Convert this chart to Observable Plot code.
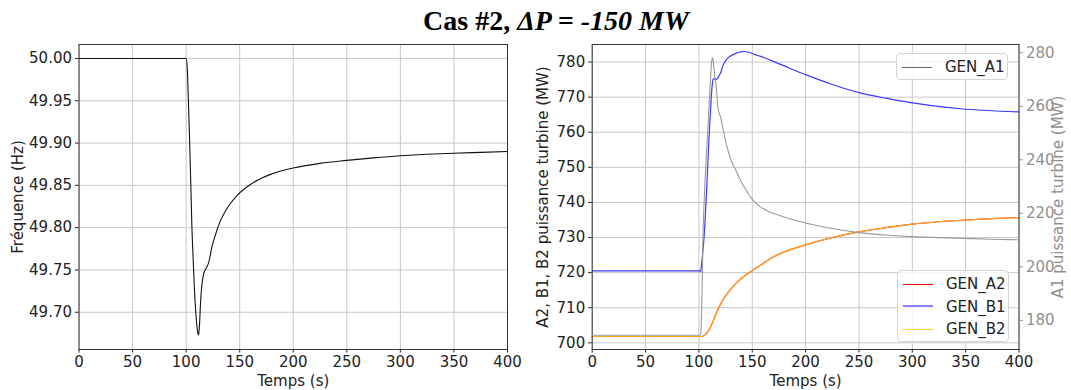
<!DOCTYPE html>
<html><head><meta charset="utf-8">
<script src="https://cdn.jsdelivr.net/npm/d3@7"></script>
<script src="https://cdn.jsdelivr.net/npm/@observablehq/plot@0.6"></script>
<style>
body{margin:0;background:#fff;}
#root{position:relative;width:1071px;height:390px;overflow:hidden;font-family:"DejaVu Sans",sans-serif;}
#root svg{position:absolute;left:0;top:0;}
.title{position:absolute;left:306px;width:500px;top:6.6px;line-height:28px;text-align:center;font-family:"Liberation Serif",serif;font-weight:bold;font-size:28px;color:#000;white-space:nowrap;}
.leg{position:absolute;background:rgba(255,255,255,0.8);border:1px solid #d5d5d5;border-radius:4px;box-sizing:border-box;}
.row{position:absolute;left:0;height:20px;font-size:15px;color:#222;line-height:20px;}
.row .sw{position:absolute;left:5px;top:10px;width:30px;height:0;}
.row .lb{position:absolute;left:48px;top:0;white-space:nowrap;}
</style></head><body><div id="root"></div>
<script>
// ---------- data ----------
const xTicks = [0, 50, 100, 150, 200, 250, 300, 350, 400];
const freqTicks = [49.70, 49.75, 49.80, 49.85, 49.90, 49.95, 50.00];
const powTicks = [700, 710, 720, 730, 740, 750, 760, 770, 780];
const a1Ticks = [180, 200, 220, 240, 260, 280];

const freqT  = [0, 100, 101, 102, 103, 103.75, 104.5, 105.3, 106.5, 107.8, 109, 110, 111, 111.6, 112.2, 112.7, 113.1, 114, 115.3, 116.5, 117.8, 119.5, 120.9, 122.5, 124, 126.5, 128.75, 132, 136.6, 141, 147.5, 153, 160, 168, 178.75, 190, 200, 225, 250, 275, 300, 325, 350, 375, 400];
const freqHz = [50.0, 50.0, 49.99, 49.955, 49.915, 49.879, 49.845, 49.805, 49.765, 49.726, 49.70, 49.685, 49.675, 49.673, 49.68, 49.69, 49.702, 49.722, 49.738, 49.746, 49.75, 49.754, 49.758, 49.767, 49.777, 49.788, 49.797, 49.808, 49.8195, 49.828, 49.838, 49.8445, 49.851, 49.857, 49.863, 49.8675, 49.8705, 49.876, 49.8795, 49.8825, 49.885, 49.8868, 49.888, 49.889, 49.89];

const b1T  = [0, 101, 101.6, 102.2, 103.5, 104.7, 106, 107.5, 108.5, 109.4, 110.5, 111.5, 112.5, 113.4, 114.5, 115.6, 116.7, 117.8, 119, 120.3, 122, 123.4, 126, 129.7, 134, 139, 143, 146.9, 152, 158, 165, 172, 180, 190, 200, 225, 251, 275, 297, 320, 345, 370, 400];
const b1MW = [720.5, 720.5, 720.2, 721.5, 725.5, 729.5, 736, 745, 752, 757.8, 764, 769.5, 773.5, 775.2, 775.3, 775.0, 775.1, 775.5, 776.2, 776.9, 778.5, 779.6, 780.8, 781.7, 782.4, 782.9, 783.0, 782.8, 782.2, 781.6, 780.8, 779.9, 778.9, 777.6, 776.4, 773.6, 771.2, 769.7, 768.5, 767.5, 766.7, 766.2, 765.8];

const a2T  = [0, 102.5, 104, 106, 108, 111, 114, 117, 120.3, 123, 126.6, 131, 136, 143, 150, 158, 167, 180, 200, 225, 250, 275, 300, 325, 350, 375, 400];
const a2MW = [701.8, 701.8, 701.95, 702.4, 703.0, 704.6, 706.7, 709.0, 711.0, 712.5, 714.0, 715.7, 717.3, 719.1, 720.6, 722.2, 724.0, 725.9, 727.9, 730.0, 731.6, 732.8, 733.8, 734.5, 735.0, 735.4, 735.7];
const b2T  = [0, 102.5, 104, 106, 108, 111, 114, 117, 120.3, 123, 126.6, 131, 136, 143, 150, 158, 167, 180, 200, 225, 250, 275, 300, 325, 350, 375, 400];
const b2MW = [701.8, 701.8, 701.95, 702.4, 703.0, 704.6, 706.7, 709.0, 711.0, 712.5, 714.0, 715.7, 717.3, 719.1, 720.6, 722.2, 724.0, 725.9, 727.9, 730.0, 731.6, 732.8, 733.8, 734.5, 735.0, 735.4, 735.7];

const a1T  = [0, 101.6, 102.2, 102.8, 103.4, 103.75, 104.5, 105.5, 106.7, 107.8, 109, 110, 111, 111.8, 112.5, 113.2, 114, 114.8, 115.6, 116.7, 117.8, 119, 120.3, 122.5, 124.9, 128, 131, 134.7, 139, 144.4, 150.9, 157, 163.8, 175, 185, 200, 225, 250, 275, 300, 325, 350, 375, 400];
const a1MW = [174.4, 174.4, 178, 188, 200, 210, 220, 230, 240, 247.2, 256, 264, 271, 276, 278.1, 277.5, 274.5, 271.5, 269.7, 265, 259.7, 257.5, 256, 251.8, 247.2, 242.5, 239, 236, 232.3, 228.5, 224.8, 222.6, 221, 219.3, 218.0, 216.4, 214.3, 212.8, 211.9, 211.3, 210.9, 210.6, 210.3, 210.1];

const rows = (ts, vs) => ts.map((t, i) => ({t, v: vs[i]}));

// ---------- layout ----------
const W = 1071, H = 390, TOP = 44, BOT = 349;
const LP = {l: 78.5, r: 507};
const RP = {l: 591.7, r: 1018.5};
const ink = "#222";
const gridC = "#c8c8c8";
const baseStyle = {fontFamily: "'DejaVu Sans', sans-serif", fontSize: "15px", color: ink, background: "transparent", overflow: "visible"};
const root = document.getElementById("root");

// ---------- left panel: frequency ----------
const left = Plot.plot({
  width: W, height: H,
  marginLeft: LP.l, marginRight: W - LP.r, marginTop: TOP, marginBottom: H - BOT,
  style: baseStyle,
  x: {domain: [0, 400]},
  y: {domain: [49.656, 50.0165]},
  marks: [
    Plot.gridX(xTicks, {stroke: gridC, strokeOpacity: 1}),
    Plot.gridY(freqTicks, {stroke: gridC, strokeOpacity: 1}),
    Plot.line(rows(freqT, freqHz), {x: "t", y: "v", stroke: "#111", strokeWidth: 1.1, curve: "monotone-x"}),
    Plot.frame({stroke: "#333"}),
    Plot.axisX(xTicks, {tickSize: 3.5, tickPadding: 3, tickFormat: d3.format("d"), label: "Temps (s)", labelAnchor: "center", labelArrow: "none", labelOffset: 36}),
    Plot.axisY(freqTicks, {tickSize: 3.5, tickPadding: 3.5, tickFormat: d3.format(".2f"), label: "Fréquence (Hz)", labelAnchor: "center", labelArrow: "none", labelOffset: 67})
  ]
});
root.appendChild(left);

// ---------- right panel: A2, B1, B2 (left axis) ----------
const right1 = Plot.plot({
  width: W, height: H,
  marginLeft: RP.l, marginRight: W - RP.r, marginTop: TOP, marginBottom: H - BOT,
  style: baseStyle,
  x: {domain: [0, 400]},
  y: {domain: [698.1, 785.0]},
  marks: [
    Plot.gridX(xTicks, {stroke: gridC, strokeOpacity: 1}),
    Plot.gridY(powTicks, {stroke: gridC, strokeOpacity: 1}),
    Plot.line(rows(b1T, b1MW), {x: "t", y: "v", stroke: "#3a3aff", strokeWidth: 1.2, curve: "monotone-x"}),
    Plot.line(rows(a2T, a2MW), {x: "t", y: "v", stroke: "red", strokeWidth: 1.2, curve: "monotone-x"}),
    Plot.line(rows(b2T, b2MW), {x: "t", y: "v", stroke: "#ffbb22", strokeOpacity: 0.88, strokeWidth: 1.2, curve: "monotone-x"}),
    Plot.frame({stroke: "#333"}),
    Plot.axisX(xTicks, {tickSize: 3.5, tickPadding: 3, tickFormat: d3.format("d"), label: "Temps (s)", labelAnchor: "center", labelArrow: "none", labelOffset: 36}),
    Plot.axisY(powTicks, {tickSize: 3.5, tickPadding: 3.5, tickFormat: d3.format("d"), label: "A2, B1, B2 puissance turbine (MW)", labelAnchor: "center", labelArrow: "none", labelOffset: 55})
  ]
});
root.appendChild(right1);

// ---------- right panel: A1 (right axis) ----------
const grayC = "#8f8f8f";
const right2 = Plot.plot({
  width: W, height: H,
  marginLeft: RP.l, marginRight: W - RP.r, marginTop: TOP, marginBottom: H - BOT,
  style: {...baseStyle, color: grayC},
  x: {domain: [0, 400], axis: null},
  y: {domain: [169.1, 283.1]},
  marks: [
    Plot.line(rows(a1T, a1MW), {x: "t", y: "v", stroke: "#999", strokeWidth: 1.1, curve: "monotone-x"}),
    Plot.axisY(a1Ticks, {anchor: "right", tickSize: 3.5, tickPadding: 3.5, tickFormat: d3.format("d"), label: "A1 puissance turbine (MW)", labelAnchor: "center", labelArrow: "none", labelOffset: 44})
  ]
});
root.appendChild(right2);

// ---------- title ----------
const title = document.createElement("div");
title.className = "title";
title.innerHTML = 'Cas #2, <i>ΔP = -150 MW</i>';
root.appendChild(title);

// ---------- legends ----------
function legend(x, y, w, h, items) {
  const box = document.createElement("div");
  box.className = "leg";
  Object.assign(box.style, {left: x + "px", top: y + "px", width: w + "px", height: h + "px"});
  items.forEach((it) => {
    const r = document.createElement("div");
    r.className = "row";
    r.style.top = (it.y - y - 10) + "px";
    r.style.width = "100%";
    r.innerHTML = `<div class="sw" style="border-top:${it.w}px solid ${it.c};margin-top:${-it.w/2}px"></div><div class="lb">${it.name}</div>`;
    box.appendChild(r);
  });
  root.appendChild(box);
}
legend(896, 53, 112, 27, [{name: "GEN_A1", c: "#666", w: 1, y: 66}]);
legend(897, 270, 112, 72, [
  {name: "GEN_A2", c: "red", w: 1, y: 283},
  {name: "GEN_B1", c: "#8484ff", w: 2.5, y: 305.5},
  {name: "GEN_B2", c: "#ffd21f", w: 1, y: 328}
]);
</script></body></html>
